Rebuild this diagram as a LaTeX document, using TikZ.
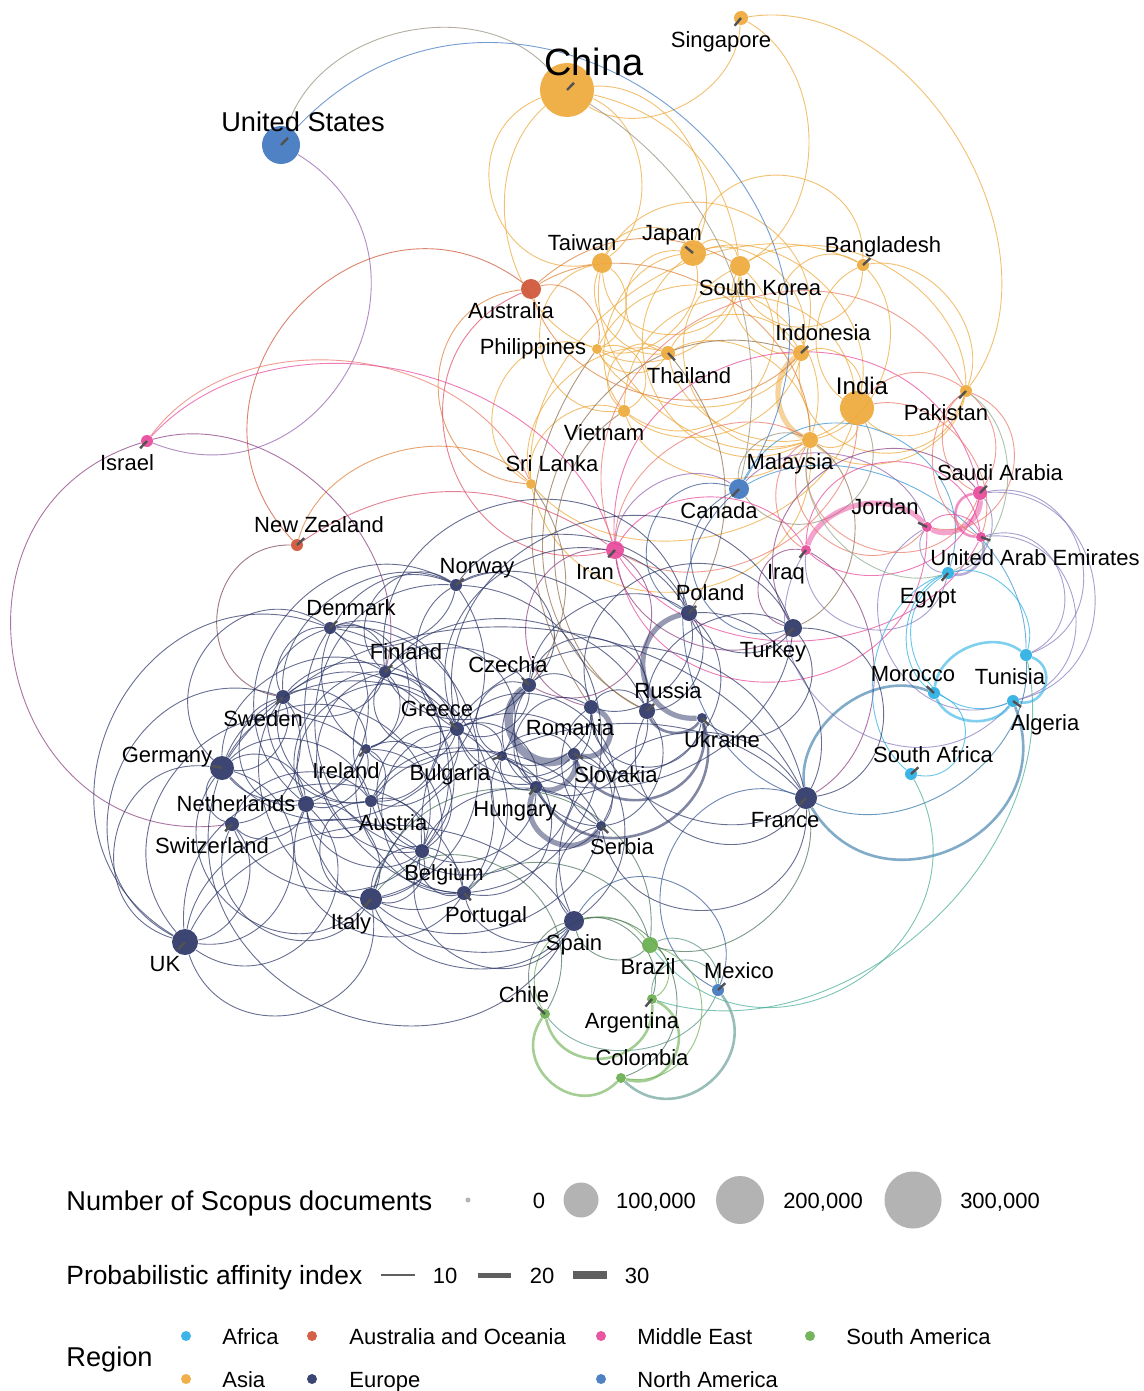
\documentclass[tikz,border=0pt]{standalone}
\usepackage{fontspec}
\setmainfont{Liberation Sans}
\usetikzlibrary{calc}
\pgfdeclarelayer{edgelayer}
\pgfdeclarelayer{paper}
\pgfsetlayers{paper,edgelayer,main}
\definecolor{cAf}{HTML}{2BAFE3}
\definecolor{cAs}{HTML}{EEA93A}
\definecolor{cAu}{HTML}{CF5437}
\definecolor{cEu}{HTML}{2D3767}
\definecolor{cME}{HTML}{E8489A}
\definecolor{cNA}{HTML}{4078C0}
\definecolor{cSA}{HTML}{69AE4F}
\definecolor{cLeg}{HTML}{B3B3B3}
\definecolor{cLine}{HTML}{5F5F5F}
\colorlet{mAsEu}{cAs!50!cEu}
\colorlet{mAsME}{cAs!50!cME}
\colorlet{mMEEu}{cME!50!cEu}
\colorlet{mAfEu}{cAf!50!cEu}
\colorlet{mAfME}{cAf!50!cME}
\colorlet{mAfAs}{cAf!50!cAs}
\colorlet{mAfSA}{cAf!50!cSA}
\colorlet{mSAEu}{cSA!50!cEu}
\colorlet{mNAEu}{cNA!50!cEu}
\colorlet{mNAAs}{cNA!50!cAs}
\colorlet{mNAME}{cNA!50!cME}
\colorlet{mNASA}{cNA!50!cSA}
\colorlet{mNAAf}{cNA!50!cAf}
\colorlet{mAuAs}{cAu!50!cAs}
\colorlet{mAuME}{cAu!50!cME}
\colorlet{mAuEu}{cAu!50!cEu}
\colorlet{mMEAs}{cME!50!cAs}
\tikzset{
  pt/.style={circle,inner sep=0pt,draw=none,fill opacity=0.92},
  nAf/.style={pt,fill=cAf}, nAs/.style={pt,fill=cAs}, nAu/.style={pt,fill=cAu},
  nEu/.style={pt,fill=cEu}, nME/.style={pt,fill=cME}, nNA/.style={pt,fill=cNA},
  nSA/.style={pt,fill=cSA},
  lab/.style={inner sep=0pt,anchor=base,font=\fontsize{11}{13}\selectfont},
  lead/.style={draw=black!68,line width=1.2pt},
  ed/.style={line width=0.45pt,draw opacity=0.72},
  t1/.style={line width=1.3pt,draw opacity=0.6},
  t2/.style={line width=2.6pt,draw opacity=0.5},
  t3/.style={line width=4.2pt,draw opacity=0.5},
  lf/.style={bend left=60}, rt/.style={bend right=60},
  lf2/.style={bend left=85,looseness=1.5}, rt2/.style={bend right=85,looseness=1.5},
  lf1/.style={bend left=35}, rt1/.style={bend right=35},
  eAs/.style={ed,draw=cAs}, eEu/.style={ed,draw=cEu}, eME/.style={ed,draw=cME},
  eAf/.style={ed,draw=cAf}, eSA/.style={ed,draw=cSA}, eNA/.style={ed,draw=cNA},
  eAu/.style={ed,draw=cAu},
  eAsEu/.style={ed,draw=mAsEu}, eAsME/.style={ed,draw=mAsME}, eMEEu/.style={ed,draw=mMEEu},
  eAfEu/.style={ed,draw=mAfEu}, eAfME/.style={ed,draw=mAfME}, eAfAs/.style={ed,draw=mAfAs},
  eAfSA/.style={ed,draw=mAfSA}, eSAEu/.style={ed,draw=mSAEu}, eNAEu/.style={ed,draw=mNAEu},
  eNAAs/.style={ed,draw=mNAAs}, eNAME/.style={ed,draw=mNAME}, eNASA/.style={ed,draw=mNASA},
  eNAAf/.style={ed,draw=mNAAf}, eAuAs/.style={ed,draw=mAuAs}, eAuME/.style={ed,draw=mAuME},
  eAuEu/.style={ed,draw=mAuEu}, eMEAs/.style={ed,draw=mMEAs},
  legc/.style={circle,inner sep=0pt,fill=cLeg,draw=none},
  legt/.style={inner sep=0pt,anchor=base west,font=\fontsize{13.6}{16}\selectfont},
  legl/.style={inner sep=0pt,anchor=base,font=\fontsize{11}{13}\selectfont},
  legr/.style={inner sep=0pt,anchor=base west,font=\fontsize{11}{13}\selectfont},
  legline/.style={draw=cLine},
}
\begin{document}
\begin{tikzpicture}[x=0.5pt,y=-0.5pt]
\useasboundingbox (0,0) rectangle (1144,1391);
\begin{pgfonlayer}{paper}
\fill[white] (0,0) rectangle (1144,1391);
\end{pgfonlayer}
% ---------- countries ----------
\node[nAs,minimum size=27pt] (china) at (567,90) {};
\node[nAs,minimum size=7pt] (sing) at (741,18) {};
\node[nNA,minimum size=19pt] (us) at (281,145) {};
\node[nAs,minimum size=10pt] (taiw) at (602,263) {};
\node[nAs,minimum size=13pt] (japan) at (693,253) {};
\node[nAs,minimum size=10pt] (skor) at (740,266) {};
\node[nAs,minimum size=6pt] (bang) at (863,265) {};
\node[nAu,minimum size=10pt] (aus) at (531,289) {};
\node[nAs,minimum size=5pt] (phil) at (597,349) {};
\node[nAs,minimum size=7pt] (thai) at (668,353) {};
\node[nAs,minimum size=8pt] (indo) at (801,353) {};
\node[nAs,minimum size=17pt] (india) at (857,408) {};
\node[nAs,minimum size=6pt] (paki) at (966,391) {};
\node[nAs,minimum size=6pt] (viet) at (624,411) {};
\node[nAs,minimum size=8pt] (malay) at (810,440) {};
\node[nAs,minimum size=5pt] (sril) at (531,484) {};
\node[nME,minimum size=6pt] (isr) at (147,441) {};
\node[nAu,minimum size=6pt] (nz) at (297,545) {};
\node[nNA,minimum size=10pt] (can) at (739,489) {};
\node[nME,minimum size=7pt] (saudi) at (980,493) {};
\node[nME,minimum size=5pt] (jor) at (927,527) {};
\node[nME,minimum size=5pt] (uae) at (981,537) {};
\node[nME,minimum size=9pt] (iran) at (615,550) {};
\node[nME,minimum size=5pt] (iraq) at (806,550) {};
\node[nAf,minimum size=6pt] (egy) at (948,573) {};
\node[nEu,minimum size=6pt] (nor) at (456,585) {};
\node[nEu,minimum size=6pt] (den) at (330,628) {};
\node[nEu,minimum size=8pt] (pol) at (689,613) {};
\node[nEu,minimum size=9pt] (turk) at (793,628) {};
\node[nEu,minimum size=6pt] (fin) at (385,672) {};
\node[nEu,minimum size=7pt] (cze) at (529,685) {};
\node[nEu,minimum size=8pt] (rus) at (647,711) {};
\node[nEu,minimum size=7pt] (swe) at (283,697) {};
\node[nEu,minimum size=7pt] (gre) at (457,729) {};
\node[nEu,minimum size=7pt] (rom) at (591,707) {};
\node[nEu,minimum size=5pt] (ukr) at (702,718) {};
\node[nAf,minimum size=6pt] (mor) at (934,693) {};
\node[nAf,minimum size=6pt] (tun) at (1026,655) {};
\node[nAf,minimum size=6pt] (alg) at (1013,701) {};
\node[nEu,minimum size=12pt] (ger) at (222,768) {};
\node[nEu,minimum size=5pt] (ire) at (366,749) {};
\node[nEu,minimum size=5pt] (bul) at (502,756) {};
\node[nEu,minimum size=6pt] (slk) at (574,754) {};
\node[nEu,minimum size=6pt] (hun) at (536,787) {};
\node[nAf,minimum size=6pt] (saf) at (911,774) {};
\node[nEu,minimum size=8pt] (ned) at (306,804) {};
\node[nEu,minimum size=6pt] (aut) at (371,801) {};
\node[nEu,minimum size=11pt] (fra) at (806,798) {};
\node[nEu,minimum size=7pt] (swi) at (232,824) {};
\node[nEu,minimum size=5pt] (ser) at (601,826) {};
\node[nEu,minimum size=7pt] (bel) at (422,851) {};
\node[nEu,minimum size=11pt] (ita) at (371,899) {};
\node[nEu,minimum size=7pt] (por) at (464,893) {};
\node[nEu,minimum size=10pt] (spa) at (574,921) {};
\node[nEu,minimum size=13pt] (uk) at (185,942) {};
\node[nSA,minimum size=8pt] (bra) at (650,945) {};
\node[nNA,minimum size=6pt] (mex) at (718,990) {};
\node[nSA,minimum size=5pt] (chi) at (545,1014) {};
\node[nSA,minimum size=5pt] (arg) at (652,999) {};
\node[nSA,minimum size=5pt] (col) at (621,1078) {};
% ---------- connectors ----------
\begin{pgfonlayer}{edgelayer}
\foreach \ea/\eb/\eo in {china/taiw/rt2, china/taiw/lf, china/phil/rt, china/sing/rt, china/japan/lf, china/skor/lf1,
  sing/skor/lf, taiw/japan/lf, taiw/skor/rt2, taiw/phil/lf, taiw/thai/rt, taiw/viet/rt2, taiw/indo/lf2,
  taiw/malay/rt, japan/skor/lf, japan/thai/rt2, japan/phil/lf, japan/indo/lf, japan/bang/lf2, japan/viet/rt,
  japan/malay/rt2, japan/india/lf, skor/bang/rt2, skor/indo/rt, skor/viet/lf2, skor/paki/lf, skor/malay/rt2,
  skor/phil/lf, bang/malay/lf, bang/india/rt, bang/paki/lf, bang/indo/rt2, bang/sril/rt, phil/thai/rt, phil/viet/lf2,
  phil/indo/rt, phil/malay/lf2, phil/sril/rt2, thai/viet/rt2, thai/indo/lf, thai/malay/lf, thai/sril/rt,
  indo/india/lf, indo/paki/rt2, indo/viet/lf, india/malay/lf, india/paki/rt, india/sril/lf, paki/malay/lf,
  viet/malay/rt, sril/malay/rt2, sril/viet/lf, thai/india/rt, viet/india/lf2}
  \draw[eAs] (\ea) to[\eo] (\eb);
\draw[eAs] (sing) to[bend left=68] (paki);
\draw[eAs,t2] (indo) to[rt] (malay);
% Asia to Europe
\foreach \ea/\eb/\eo in {sril/cze/lf1, viet/rus/rt, malay/turk/lf, indo/rus/rt2, thai/pol/lf1, phil/rom/rt1}
  \draw[eAsEu] (\ea) to[\eo] (\eb);
% North America
\draw[eNAAs] (us) to[lf] (china);
\draw[eNA] (us) to[lf2] (can);
\draw[eNAME] (us) to[lf2] (isr);
\draw[eNAAs] (china) to[lf1] (can);
\foreach \ea/\eb/\eo in {can/iran/rt, can/jor/lf} \draw[eNAME] (\ea) to[\eo] (\eb);
\foreach \ea/\eb/\eo in {can/turk/rt2, can/fra/rt, can/pol/rt2, mex/spa/rt2, mex/fra/lf2} \draw[eNAEu] (\ea) to[\eo] (\eb);
\foreach \ea/\eb/\eo in {can/egy/lf2, can/tun/lf} \draw[eNAAf] (\ea) to[\eo] (\eb);
\foreach \ea/\eb/\eo in {can/india/rt2, can/malay/lf} \draw[eNAAs] (\ea) to[\eo] (\eb);
\foreach \ea/\eb/\eo in {mex/bra/rt, mex/arg/rt2, mex/chi/lf} \draw[eNASA] (\ea) to[\eo] (\eb);
\draw[eNASA,t1] (mex) to[lf2] (col);
% Oceania
\draw[eAu] (aus) to[rt2] (nz);
\foreach \ea/\eb/\eo in {aus/skor/lf1, aus/indo/rt, aus/sril/rt2, aus/malay/lf, aus/phil/lf, nz/sril/lf} \draw[eAuAs] (\ea) to[\eo] (\eb);
\foreach \ea/\eb/\eo in {aus/iran/rt2, nz/iran/lf1} \draw[eAuME] (\ea) to[\eo] (\eb);
\draw[eAuEu] (nz) to[rt2] (swe);
% Israel and Middle East
\draw[eMEAs] (isr) to[lf] (sril);
\draw[eME] (isr) to[lf] (iran);
\draw[eMEEu] (isr) to[lf] (fin);
\draw[eMEEu] (isr) to[rt2] (swi);
\foreach \ea/\eb/\eo in {iran/iraq/lf, iran/jor/rt2, iran/saudi/lf2, iran/uae/rt, iraq/saudi/rt, iraq/uae/lf2, jor/uae/lf}
  \draw[eME] (\ea) to[\eo] (\eb);
\draw[eME,t2] (iraq) to[lf] (jor);
\draw[eME,t2] (jor) to[rt] (saudi);
\draw[eME,t1] (saudi) to[rt2] (uae);
\foreach \ea/\eb/\eo in {iran/malay/lf, iran/india/rt, iran/paki/lf2, saudi/paki/lf, saudi/india/rt2, saudi/malay/lf2,
  uae/india/rt, uae/paki/lf, jor/paki/rt2, iraq/malay/lf, jor/malay/lf2} \draw[eMEAs] (\ea) to[\eo] (\eb);
\foreach \ea/\eb/\eo in {iran/turk/rt, iraq/turk/rt2, iran/cze/lf2, iran/rom/rt2, iraq/fra/lf, saudi/turk/rt2}
  \draw[eMEEu] (\ea) to[\eo] (\eb);
\foreach \ea/\eb/\eo in {egy/saudi/rt, egy/jor/lf, egy/iraq/lf2, saudi/tun/lf2, saudi/alg/lf2, uae/alg/lf2,
  jor/alg/rt2, uae/tun/lf2, iraq/alg/rt2} \draw[eAfME] (\ea) to[\eo] (\eb);
\draw[eAfME,t1] (egy) to[rt] (uae);
% Africa
\foreach \ea/\eb/\eo in {egy/tun/lf, egy/alg/rt2, egy/mor/rt, saf/mor/rt2, saf/egy/lf} \draw[eAf] (\ea) to[\eo] (\eb);
\draw[eAf,t1] (mor) to[lf] (tun);
\draw[eAf,t1] (mor) to[rt] (alg);
\draw[eAf,t1] (tun) to[lf2] (alg);
\draw[eAfEu,t1] (fra) to[lf] (mor);
\draw[eAfEu,t1] (fra) to[rt2] (alg);
\draw[eAfEu] (fra) to[rt] (tun);
\foreach \ea/\eb/\eo in {egy/malay/lf, egy/paki/rt} \draw[eAfAs] (\ea) to[\eo] (\eb);
\draw[eAfSA] (saf) to[lf2] (bra);
\draw[eAfSA] (arg) to[rt] (tun);
% South America
\foreach \ea/\eb/\eo in {bra/arg/lf, bra/chi/rt2, bra/col/lf2} \draw[eSA] (\ea) to[\eo] (\eb);
\draw[eSA,t1] (chi) to[rt2] (arg);
\draw[eSA,t1] (chi) to[rt2] (col);
\draw[eSA,t1] (arg) to[lf2] (col);
\foreach \ea/\eb/\eo in {bra/por/rt, bra/spa/lf, chi/spa/lf, col/spa/rt2, arg/spa/rt, bra/ita/rt2, bra/fra/rt, chi/ita/rt2}
  \draw[eSAEu] (\ea) to[\eo] (\eb);
% Europe
\foreach \ea/\eb/\eo in {nor/den/lf, nor/fin/rt2, nor/swe/rt, nor/ned/rt2, nor/pol/lf, nor/cze/lf2, nor/gre/rt,
  nor/rus/lf, nor/ire/rt2, nor/ger/lf2, nor/bel/rt2, nor/por/lf2,
  den/fin/lf, den/swe/rt, den/ger/rt2, den/ned/lf, den/ire/lf2, den/bel/lf, den/aut/rt2, den/gre/lf, den/ita/lf2,
  den/uk/rt2, den/por/rt,
  fin/swe/lf, fin/ger/rt, fin/gre/rt2, fin/ire/lf, fin/aut/lf2, fin/ned/rt, fin/rus/lf, fin/pol/lf2, fin/bel/rt2,
  fin/por/lf, fin/cze/rt, fin/bul/lf2,
  swe/ger/lf, swe/ned/rt2, swe/swi/lf, swe/uk/rt2, swe/ire/lf, swe/aut/rt, swe/bel/lf2, swe/ita/rt, swe/gre/lf,
  ger/ned/lf, ger/swi/rt, ger/uk/rt2, ger/aut/lf, ger/ita/rt2, ger/bel/lf2, ger/ire/rt, ger/fra/lf, ger/spa/rt2,
  ger/uk/lf2, ger/gre/lf,
  ire/uk/rt2, ire/aut/lf, ire/gre/rt, ire/bel/lf2, ire/por/rt, ire/ned/lf, ire/ita/lf2,
  ned/bel/rt, ned/swi/lf, ned/uk/lf2, ned/aut/rt2, ned/ita/lf, ned/por/rt2, ned/gre/lf2, ned/spa/rt,
  aut/bel/lf, aut/ita/rt2, aut/swi/rt, aut/hun/lf, aut/cze/lf2, aut/gre/rt, aut/slk/rt2, aut/ser/lf,
  swi/uk/lf, swi/ita/rt2, swi/bel/rt,
  bel/ita/lf, bel/por/rt, bel/fra/lf2, bel/spa/rt2, bel/uk/rt, bel/gre/lf2, bel/ser/lf, bel/hun/rt,
  ita/por/lf2, ita/spa/rt, ita/uk/lf2, ita/gre/rt2, ita/fra/lf, ita/ser/rt,
  por/spa/rt, por/gre/lf2, por/bul/rt2, por/uk/rt2,
  spa/fra/lf2, spa/uk/rt, spa/gre/rt2, spa/ser/lf,
  gre/bul/lf, gre/cze/rt, gre/rom/rt2, gre/ser/lf2, gre/hun/lf, gre/slk/rt, gre/pol/lf2,
  cze/pol/lf, cze/hun/rt, cze/rom/lf, cze/bul/rt2, cze/rus/lf2, cze/ser/rt,
  rom/hun/rt2, rom/bul/lf, rom/ser/rt, rom/rus/lf, rom/ukr/rt2, rom/pol/rt, rom/turk/lf2, rom/fra/rt,
  slk/pol/rt2, slk/ser/lf, slk/bul/rt,
  hun/bul/lf, hun/rus/rt,
  ser/bul/lf2, ser/rus/rt, ser/fra/rt2,
  pol/rus/lf, pol/turk/rt, pol/fra/lf,
  rus/turk/lf, rus/fra/rt2, ukr/turk/rt2, turk/fra/lf2, turk/gre/rt2, turk/bul/lf}
  \draw[eEu] (\ea) to[\eo] (\eb);
\draw[eEu,t3] (cze) to[rt2] (slk);
\draw[eEu,t2] (rom) to[lf2] (slk);
\draw[eEu,t2] (slk) to[lf] (hun);
\draw[eEu,t2] (hun) to[rt2] (ser);
\draw[eEu,t1] (hun) to[rt2] (ukr);
\draw[eEu,t1] (slk) to[rt2] (ukr);
\draw[eEu,t2] (pol) to[rt2] (ukr);
\draw[eEu,t1] (rus) to[rt] (ukr);
\end{pgfonlayer}
% ---------- labels ----------
\node[lab,font=\fontsize{19}{21}\selectfont] (lchina) at (594,76) {China};
\node[lab] (lsing) at (721,48) {Singapore};
\node[lab,font=\fontsize{13.6}{16}\selectfont] (lus) at (303,132) {United States};
\node[lab] (ltaiw) at (582,250) {Taiwan};
\node[lab] (ljapan) at (672,241) {Japan};
\node[lab] (lskor) at (760,295) {South Korea};
\node[lab] (lbang) at (883,252) {Bangladesh};
\node[lab] (laus) at (511,318) {Australia};
\node[lab] (lphil) at (533,354) {Philippines};
\node[lab] (lthai) at (689,383) {Thailand};
\node[lab] (lindo) at (823,340) {Indonesia};
\node[lab,font=\fontsize{12}{14}\selectfont] (lindia) at (862,394) {India};
\node[lab] (lpaki) at (946,420) {Pakistan};
\node[lab] (lviet) at (604,440) {Vietnam};
\node[lab] (lmalay) at (790,469) {Malaysia};
\node[lab] (lsril) at (552,471) {Sri Lanka};
\node[lab] (lisr) at (127,470) {Israel};
\node[lab] (lnz) at (319,532) {New Zealand};
\node[lab] (lcan) at (719,518) {Canada};
\node[lab] (lsaudi) at (1000,480) {Saudi Arabia};
\node[lab] (ljor) at (885,514) {Jordan};
\node[lab] (luae) at (1035,565) {United Arab Emirates};
\node[lab] (liran) at (595,579) {Iran};
\node[lab] (liraq) at (786,579) {Iraq};
\node[lab] (legy) at (928,603) {Egypt};
\node[lab] (lnor) at (477,573) {Norway};
\node[lab] (lden) at (351,615) {Denmark};
\node[lab] (lpol) at (710,600) {Poland};
\node[lab] (lturk) at (773,657) {Turkey};
\node[lab] (lfin) at (406,659) {Finland};
\node[lab] (lcze) at (508,672) {Czechia};
\node[lab] (lrus) at (668,698) {Russia};
\node[lab] (lswe) at (263,726) {Sweden};
\node[lab] (lgre) at (437,716) {Greece};
\node[lab] (lrom) at (570,735) {Romania};
\node[lab] (lukr) at (722,747) {Ukraine};
\node[lab] (lmor) at (913,681) {Morocco};
\node[lab] (ltun) at (1010,684) {Tunisia};
\node[lab] (lalg) at (1045,730) {Algeria};
\node[lab] (lger) at (167,762) {Germany};
\node[lab] (lire) at (346,778) {Ireland};
\node[lab] (lbul) at (450,780) {Bulgaria};
\node[lab] (lslk) at (616,782) {Slovakia};
\node[lab] (lhun) at (515,816) {Hungary};
\node[lab] (lsaf) at (933,762) {South Africa};
\node[lab] (lned) at (236,811) {Netherlands};
\node[lab] (laut) at (393,830) {Austria};
\node[lab] (lfra) at (785,827) {France};
\node[lab] (lswi) at (212,853) {Switzerland};
\node[lab] (lser) at (622,854) {Serbia};
\node[lab] (lbel) at (444,880) {Belgium};
\node[lab] (lita) at (351,929) {Italy};
\node[lab] (lpor) at (486,922) {Portugal};
\node[lab] (lspa) at (574,950) {Spain};
\node[lab] (luk) at (165,971) {UK};
\node[lab] (lbra) at (648,974) {Brazil};
\node[lab] (lmex) at (739,978) {Mexico};
\node[lab] (lchi) at (524,1002) {Chile};
\node[lab] (larg) at (632,1028) {Argentina};
\node[lab] (lcol) at (642,1065) {Colombia};
% ---------- label leaders ----------
\foreach \ea/\eb in {china/lchina, sing/lsing, us/lus, japan/ljapan, bang/lbang, thai/lthai, indo/lindo, paki/lpaki,
  isr/lisr, nz/lnz, can/lcan, saudi/lsaudi, jor/ljor, uae/luae, iran/liran, iraq/liraq, egy/legy, nor/lnor,
  den/lden, pol/lpol, turk/lturk, fin/lfin, cze/lcze, rus/lrus, swe/lswe, gre/lgre, ukr/lukr, mor/lmor,
  alg/lalg, ger/lger, ire/lire, bul/lbul, slk/lslk, hun/lhun, saf/lsaf, swi/lswi, ser/lser, ita/lita,
  por/lpor, uk/luk, mex/lmex, chi/lchi, arg/larg, fra/lfra}
  \draw[lead] (\ea.center) -- ($(\ea.center)!5pt!(\eb)$);
% ---------- legend ----------
\node[legt] (legsize) at (66,1210) {Number of Scopus documents};
\node[legc,minimum size=2.5pt] (s0) at (468,1200) {};
\node[legl] (s0l) at (539,1208) {0};
\node[legc,minimum size=17.5pt] (s1) at (581,1200) {};
\node[legl] (s1l) at (656,1208) {100,000};
\node[legc,minimum size=24pt] (s2) at (740,1200) {};
\node[legl] (s2l) at (823,1208) {200,000};
\node[legc,minimum size=28.5pt] (s3) at (913,1200) {};
\node[legl] (s3l) at (1000,1208) {300,000};
\node[legt,font=\fontsize{13.2}{16}\selectfont] (legaff) at (66,1284) {Probabilistic affinity index};
\coordinate (a1s) at (381,1275); \coordinate (a1e) at (415,1275);
\coordinate (a2s) at (478,1275); \coordinate (a2e) at (511,1275);
\coordinate (a3s) at (573,1275); \coordinate (a3e) at (607,1275);
\draw[legline,line width=1pt] (a1s) -- (a1e);
\draw[legline,line width=2.5pt] (a2s) -- (a2e);
\draw[legline,line width=4pt] (a3s) -- (a3e);
\node[legl] (a1l) at (445,1283) {10};
\node[legl] (a2l) at (542,1283) {20};
\node[legl] (a3l) at (637,1283) {30};
\node[legt] (legreg) at (66,1366) {Region};
\node[nAf,minimum size=5pt] (rAf) at (186,1336) {};
\node[legr] (rAfl) at (222,1344) {Africa};
\node[nAs,minimum size=5pt] (rAs) at (186,1379) {};
\node[legr] (rAsl) at (222,1387) {Asia};
\node[nAu,minimum size=5pt] (rAu) at (312,1336) {};
\node[legr] (rAul) at (349,1344) {Australia and Oceania};
\node[nEu,minimum size=5pt] (rEu) at (312,1379) {};
\node[legr] (rEul) at (349,1387) {Europe};
\node[nME,minimum size=5pt] (rME) at (601,1336) {};
\node[legr] (rMEl) at (637,1344) {Middle East};
\node[nNA,minimum size=5pt] (rNA) at (601,1379) {};
\node[legr] (rNAl) at (637,1387) {North America};
\node[nSA,minimum size=5pt] (rSA) at (810,1336) {};
\node[legr] (rSAl) at (846,1344) {South America};
\end{tikzpicture}
\end{document}
